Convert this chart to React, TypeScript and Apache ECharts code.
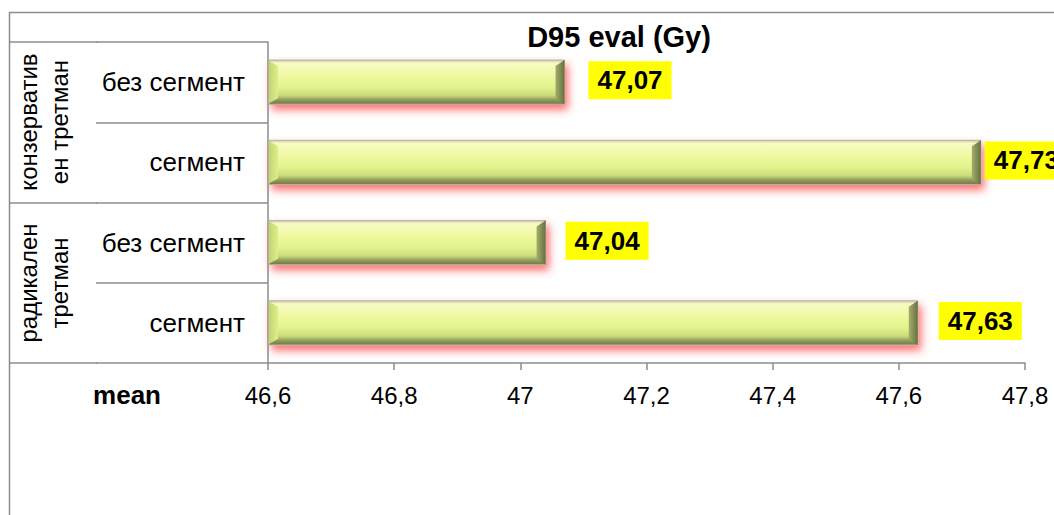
import React, { useEffect, useRef } from "react";
import * as echarts from "echarts";

// Mean D95 (Gy) per treatment group and segmentation
const categories = ["без сегмент", "сегмент", "без сегмент", "сегмент"];
const groups = ["конзерватив\nен третман", "радикален\nтретман"];
const meanValues = [47.07, 47.73, 47.04, 47.63];
const xTicks = { min: 46.6, max: 47.8, step: 0.2 };
const labelGaps = [24, 4, 20, 21];

const FONT = "'Liberation Sans', Arial, sans-serif";
const fmt = (v: number) => String(Number(v.toFixed(2))).replace(".", ",");

export default function App() {
  const ref = useRef<HTMLDivElement>(null);

  useEffect(() => {
    if (!ref.current) return;
    const chart = echarts.init(ref.current, undefined, { renderer: "svg" });

    const barFill = new echarts.graphic.LinearGradient(0, 0, 0, 1, [
      { offset: 0, color: "#c9c9ad" },
      { offset: 0.07, color: "#f7fbc4" },
      { offset: 0.35, color: "#eef9a0" },
      { offset: 0.62, color: "#e2f38c" },
      { offset: 0.8, color: "#cadb79" },
      { offset: 0.9, color: "#919d5c" },
      { offset: 1, color: "#6c7747" },
    ]);
    const rightBevel = new echarts.graphic.LinearGradient(0, 0, 1, 0, [
      { offset: 0, color: "#a3ae6c" },
      { offset: 1, color: "#66703f" },
    ]);
    const leftBevel = new echarts.graphic.LinearGradient(0, 0, 1, 0, [
      { offset: 0, color: "#c2d572" },
      { offset: 1, color: "#dcef88" },
    ]);

    const data = meanValues.map((v, i) => [v, i]);

    chart.setOption({
      animation: false,
      grid: { left: 268, right: 29, top: 42, bottom: 152, containLabel: false },
      xAxis: {
        type: "value",
        min: xTicks.min,
        max: xTicks.max,
        interval: xTicks.step,
        axisLine: { show: true, lineStyle: { color: "#8c8c8c", width: 1.5 } },
        axisTick: { show: true, length: 7, lineStyle: { color: "#8c8c8c", width: 1.5 } },
        splitLine: { show: false },
        axisLabel: {
          margin: 20,
          fontSize: 24,
          fontFamily: FONT,
          color: "#000",
          formatter: (v: number) => String(Number(v.toFixed(1))).replace(".", ","),
        },
      },
      yAxis: {
        type: "category",
        data: categories,
        inverse: true,
        axisLine: { show: true, lineStyle: { color: "#8c8c8c", width: 1.5 } },
        axisTick: { show: true, length: 172, lineStyle: { color: "#8c8c8c", width: 1.5 } },
        axisLabel: { margin: 23, fontSize: 26, fontFamily: FONT, color: "#000" },
      },
      graphic: [
        {
          type: "rect",
          shape: { x: 9.5, y: 12.5, width: 1200, height: 700 },
          style: { fill: "none", stroke: "#8c8c8c", lineWidth: 1.5 },
          silent: true,
          z: -1,
        },
        ...[42, 203, 363].map((y) => ({
          type: "line",
          shape: { x1: 9, y1: y, x2: 97, y2: y },
          style: { stroke: "#8c8c8c", lineWidth: 1.5 },
        })),
        {
          type: "text",
          x: 619,
          y: 37,
          style: {
            text: "D95 eval (Gy)",
            font: `bold 29px ${FONT}`,
            fill: "#000",
            align: "center",
            verticalAlign: "middle",
          },
        },
        {
          type: "text",
          x: 127,
          y: 395,
          style: {
            text: "mean",
            font: `bold 26px ${FONT}`,
            fill: "#000",
            align: "center",
            verticalAlign: "middle",
          },
        },
        ...groups.map((g, i) => ({
          type: "text",
          x: 44,
          y: 122 + i * 161,
          rotation: Math.PI / 2,
          style: {
            text: g,
            font: `24px ${FONT}`,
            lineHeight: 31,
            fill: "#000",
            align: "center",
            verticalAlign: "middle",
          },
        })),
      ],
      series: [
        {
          type: "custom",
          clip: false,
          data,
          encode: { x: 0, y: 1 },
          renderItem: (params: any, api: any) => {
            const v = api.value(0);
            const idx = api.value(1);
            const start = api.coord([xTicks.min, idx]);
            const end = api.coord([v, idx]);
            const band = api.size([0, 1])[1];
            const h = band * 0.55;
            const top = start[1] - h / 2;
            const x0 = start[0] + 1;
            const x1 = end[0];
            const bev = 9;
            return {
              type: "group",
              children: [
                {
                  type: "rect",
                  shape: { x: x0, y: top, width: x1 - x0, height: h },
                  style: {
                    fill: barFill,
                    stroke: "#b5b5a0",
                    lineWidth: 1,
                    shadowBlur: 8,
                    shadowColor: "rgba(255,60,60,0.75)",
                    shadowOffsetX: 3,
                    shadowOffsetY: 5,
                  },
                },
                {
                  type: "polygon",
                  shape: {
                    points: [
                      [x0, top + 1],
                      [x0 + bev, top + 6],
                      [x0 + bev, top + h - 6],
                      [x0, top + h - 1],
                    ],
                  },
                  style: { fill: leftBevel },
                },
                {
                  type: "polygon",
                  shape: {
                    points: [
                      [x1 - bev, top + 6],
                      [x1, top],
                      [x1, top + h],
                      [x1 - bev, top + h - 6],
                    ],
                  },
                  style: { fill: rightBevel },
                },
                {
                  type: "text",
                  x: x1 + labelGaps[params.dataIndex],
                  y: start[1] - 2,
                  style: {
                    text: fmt(v),
                    font: `bold 26px ${FONT}`,
                    fill: "#000",
                    backgroundColor: "#ffff00",
                    padding: [7, 9, 5, 9],
                    align: "left",
                    verticalAlign: "middle",
                  },
                },
              ],
            };
          },
        },
      ],
    });

    return () => chart.dispose();
  }, []);

  return (
    <div
      ref={ref}
      style={{ position: "fixed", left: 0, top: 0, width: 1054, height: 515, background: "#fff" }}
    />
  );
}
